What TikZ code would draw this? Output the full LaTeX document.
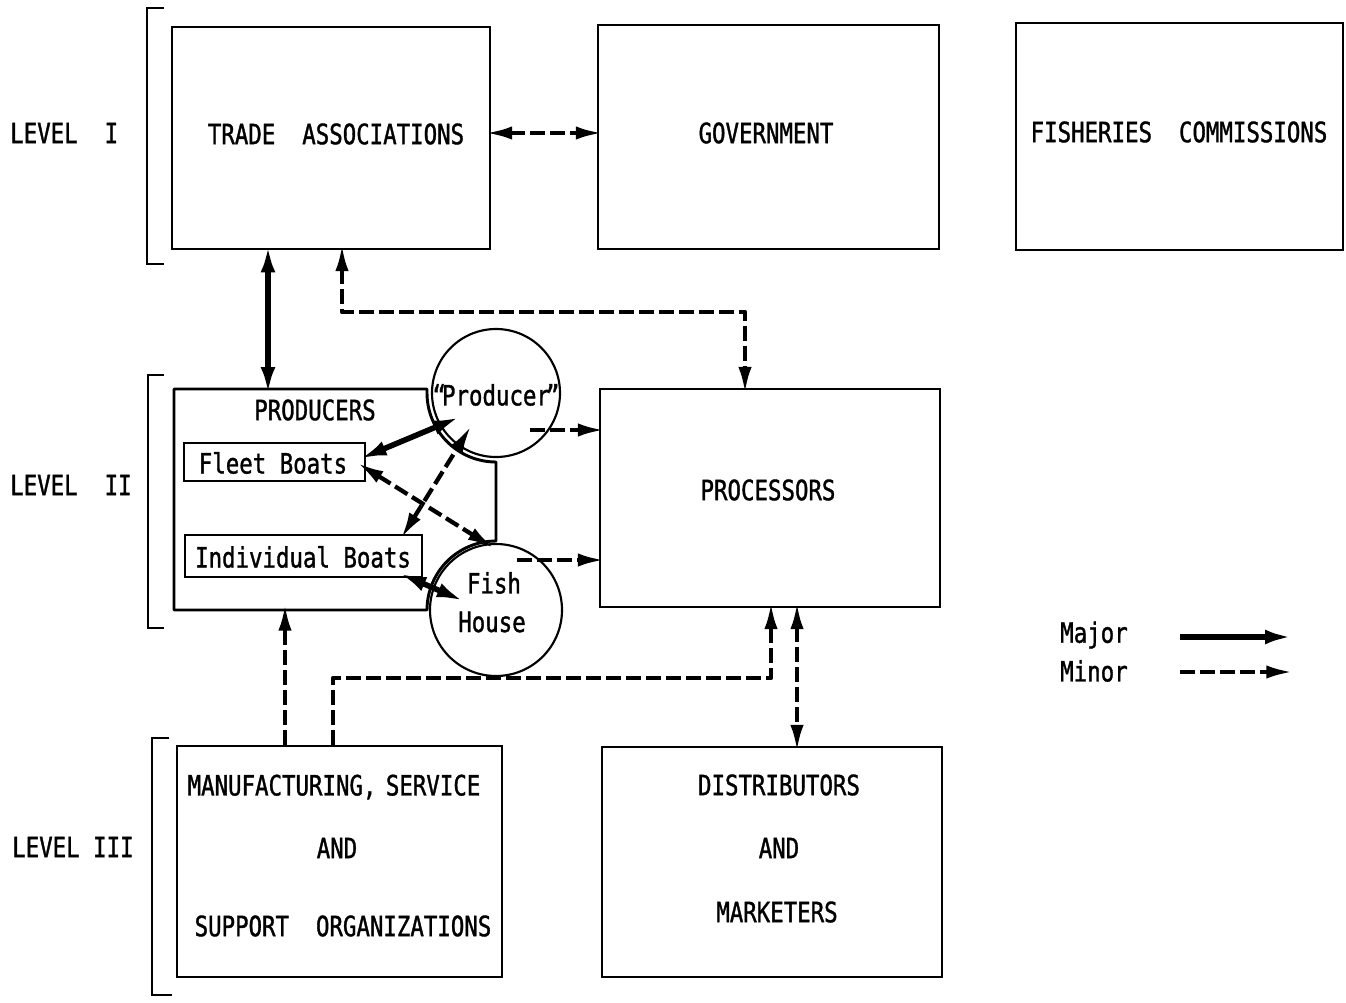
\documentclass[tikz,border=0pt]{standalone}
\usepackage{fontspec}
\setmainfont{DejaVu Sans Mono}[FakeStretch=0.8,FakeBold=1.2]
\usetikzlibrary{arrows.meta,calc,fit}
\begin{document}
\begin{tikzpicture}[x=0.75pt,y=0.75pt,
  font=\fontsize{21}{25}\selectfont,
  box/.style={draw,line width=2.2pt,inner sep=0pt},
  txt/.style={inner sep=0pt,anchor=center},
  ltxt/.style={inner sep=0pt,anchor=west},
  majtip/.tip={Latex[length=21pt,width=11pt]},
  mintip/.tip={Latex[length=20pt,width=10pt]},
  major/.style={line width=4.2pt,majtip-majtip,shorten <=-4.5pt,shorten >=-4.5pt},
  majorone/.style={line width=4.2pt,-majtip,shorten >=-4.5pt},
  minor/.style={line width=3.2pt,dash pattern=on 11pt off 4pt,mintip-mintip,shorten <=-4.5pt,shorten >=-4.5pt},
  minorone/.style={line width=3.2pt,dash pattern=on 11pt off 4pt,-mintip,shorten >=-4.5pt},
  bracket/.style={line width=2.2pt}]

\fill[white] (0,0) rectangle (1346,-1003);
\useasboundingbox (0,0) rectangle (1346,-1003);

% level labels and brackets
\node[ltxt] (l1) at (10,-133) {LEVEL\ \ I};
\node[ltxt] (l2) at (10,-485) {LEVEL\ \ II};
\node[ltxt] (l3) at (12,-847) {LEVEL III};
\draw[bracket] (164,-8) -- (147,-8) -- (147,-264) -- (164,-264);
\draw[bracket] (164,-375) -- (148,-375) -- (148,-628) -- (164,-628);
\draw[bracket] (169,-738) -- (152,-738) -- (152,-995) -- (172,-995);

% level I
\node[box,fit={(172,-27) (490,-249)}] (trade) {};
\node[box,fit={(598,-25) (939,-249)}] (gov) {};
\node[box,fit={(1016,-23) (1343,-250)}] (fish) {};
\node[txt] (tradeT) at (336,-134) {TRADE\ \ ASSOCIATIONS};
\node[txt] (govT) at (766,-133) {GOVERNMENT};
\node[txt] (fishT) at (1179,-132) {FISHERIES\ \ COMMISSIONS};

% level II
\node[box,fit={(600,-389) (940,-607)}] (proc) {};
\node[txt] (procT) at (768,-490) {PROCESSORS};

\node[draw,circle,line width=1.6pt,minimum size=128*0.75pt,inner sep=0pt] (pc) at (496,-393) {};
\node[draw,circle,line width=1.6pt,minimum size=132*0.75pt,inner sep=0pt] (fh) at (496,-610) {};
\node[txt] (pcT) at (496,-395) {“\kern-3pt Producer\kern-3pt”};
\node[txt] (fhT1) at (494,-583) {Fish};
\node[txt] (fhT2) at (492,-622) {House};

% producers enclosure, following the two circles
\draw[line width=2.2pt,line join=round]
  (174,-389) -- (427,-389) -- (427,-393)
  arc[start angle=180,end angle=270,radius=69]
  -- (496,-541)
  arc[start angle=90,end angle=180,radius=69]
  -- (174,-610) -- cycle;
\node[txt] (prodT) at (315,-410) {PRODUCERS};
\node[box,line width=2pt,fit={(184,-443) (365,-481)}] (fleet) {};
\node[txt] (fleetT) at (273,-463) {Fleet Boats};
\node[box,line width=2pt,fit={(185,-535) (422,-577)}] (indiv) {};
\node[txt] (indivT) at (303,-557) {Individual Boats};

% level III
\node[box,fit={(177,-746) (502,-977)}] (manuf) {};
\node[txt] (manufT1) at (334,-787) {MANUFACTURING,\kern-3pt\ SERVICE};
\node[txt] (manufT2) at (337,-848) {AND};
\node[txt] (manufT3) at (343,-926) {SUPPORT\ \ ORGANIZATIONS};
\node[box,fit={(602,-747) (942,-977)}] (dist) {};
\node[txt] (distT1) at (779,-785) {DISTRIBUTORS};
\node[txt] (distT2) at (779,-848) {AND};
\node[txt] (distT3) at (777,-912) {MARKETERS};

% connector end points
\coordinate (tg) at (0,-133);
\coordinate (prodN) at (268,-389);
\coordinate (prodS) at (285,-610);
\coordinate (k1) at (342,-312);
\coordinate (k2) at (745,-312);
\coordinate (pcOut) at (530,-430);
\coordinate (fhOut) at (517,-560);
\coordinate (pcIn1) at (455,-419);
\coordinate (pcIn2) at (468,-431);
\coordinate (fhIn1) at (489,-545);
\coordinate (fhIn2) at (459,-599);
\coordinate (m1) at (333,-678);
\coordinate (m2) at (771,-678);
\coordinate (pd) at (797,0);

% connectors
\draw[minor] (trade.east |- tg) -- (gov.west |- tg);
\draw[major] (trade.south -| prodN) -- (prodN);
\draw[minor,line join=round] (trade.south -| k1) -- (k1) -- (k2) -- (proc.north -| k2);
\draw[minorone] (pcOut) -- (proc.west |- pcOut);
\draw[minorone] (fhOut) -- (proc.west |- fhOut);
\draw[major] ($(fleet.east)+(-2,5)$) -- (pcIn1);
\draw[minor] ($(fleet.east)+(-4,-4)$) -- (fhIn1);
\draw[minor] (indiv.north -| 404,0) -- (pcIn2);
\draw[major] ($(indiv.south -| 404,0)+(0,3)$) -- (fhIn2);
\draw[minorone] (manuf.north -| prodS) -- (prodS);
\draw[minorone,line join=round] (manuf.north -| m1) -- (m1) -- (m2) -- (proc.south -| m2);
\draw[minor] (proc.south -| pd) -- (dist.north -| pd);

% legend
\node[ltxt] (majT) at (1060,-635) {Major};
\node[ltxt] (minT) at (1060,-671) {Minor};
\coordinate (lgA) at (1180,-637);
\coordinate (lgB) at (1287,-637);
\coordinate (lgC) at (1180,-672);
\coordinate (lgD) at (1287,-672);
\draw[majorone] (lgA) -- (lgB);
\draw[minorone] (lgC) -- (lgD);
\end{tikzpicture}
\end{document}
